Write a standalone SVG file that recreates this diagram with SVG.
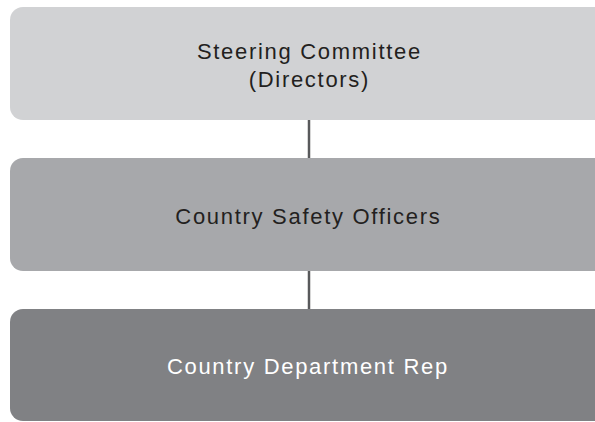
<svg xmlns="http://www.w3.org/2000/svg" width="595" height="422" viewBox="0 0 595 422">
  <style>
    .lbl { font-family: "Liberation Sans", Arial, sans-serif; font-size: 22px; text-anchor: middle; letter-spacing: 1.7px; }
    .dark { fill: #231f20; }
    .light { fill: #ffffff; }
    .link { stroke: #58595b; stroke-width: 2.5; fill: none; }
  </style>
  <rect width="595" height="422" fill="#ffffff"/>
  <g id="connectors">
    <line class="link" x1="309" y1="120" x2="309" y2="158"/>
    <line class="link" x1="309" y1="271" x2="309" y2="309"/>
  </g>
  <g id="steering-committee">
    <rect x="10" y="7" width="600" height="113" rx="13" fill="#d1d2d4"/>
    <text class="lbl dark" x="309.4" y="58.5">Steering Committee</text>
    <text class="lbl dark" x="309.4" y="87.3">(Directors)</text>
  </g>
  <g id="country-safety-officers">
    <rect x="10" y="158" width="600" height="113" rx="13" fill="#a7a8ab"/>
    <text class="lbl dark" x="308.4" y="224">Country Safety Officers</text>
  </g>
  <g id="country-department-rep">
    <rect x="10" y="309" width="600" height="112" rx="13" fill="#808184"/>
    <text class="lbl light" x="307.9" y="374">Country Department Rep</text>
  </g>
</svg>
